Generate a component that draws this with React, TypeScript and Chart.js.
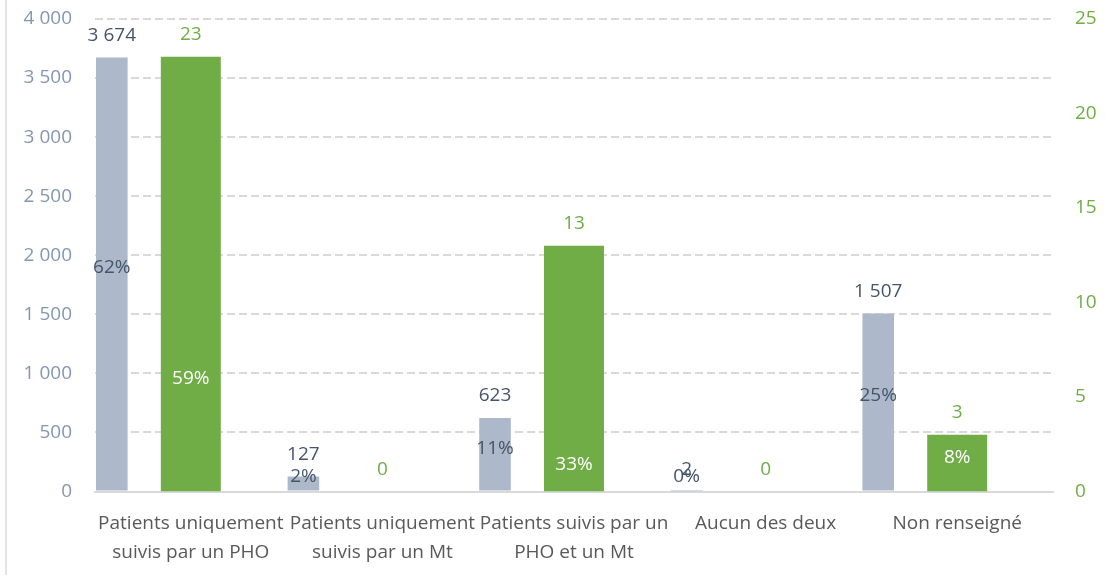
import React, { useEffect, useRef } from "react";
import { Chart, registerables } from "chart.js";

Chart.register(...registerables);

const categories: (string | string[])[] = [
  ["Patients uniquement", "suivis par un PHO"],
  ["Patients uniquement", "suivis par un Mt"],
  ["Patients suivis par un", "PHO et un Mt"],
  "Aucun des deux",
  "Non renseigné",
];

const patientCounts = [3674, 127, 623, 2, 1507];
const patientPct = [62, 2, 11, 0, 25];

const centreCounts = [23, 0, 13, 0, 3];
const centrePct: (number | null)[] = [59, null, 33, null, 8];
// vertical level (right-axis units) where the percentage labels of the green bars sit
const centrePctLevel: (number | null)[] = [6, null, 1.4, null, 1.8];

const leftTicks = { min: 0, max: 4000, step: 500 };
const rightTicks = { min: 0, max: 25, step: 5 };

const FONT = "'Open Sans', 'DejaVu Sans', sans-serif";
const GREY_BAR = "#ADB9CA";
const GREEN = "#70AD47";
const DARK = "#44546A";
const AXIS_BLUE = "#8497B0";
const GRID = "#D9D9D9";

const fmt = (v: number) => String(v).replace(/\B(?=(\d{3})+(?!\d))/g, " ");

const labelPlugin = {
  id: "barLabels",
  afterDatasetsDraw(chart: any) {
    const ctx = chart.ctx;
    ctx.save();
    ctx.font = `19px ${FONT}`;
    ctx.textAlign = "center";
    ctx.textBaseline = "middle";
    const greyMeta = chart.getDatasetMeta(0);
    const greenMeta = chart.getDatasetMeta(2);
    const y1 = chart.scales.y1;
    greyMeta.data.forEach((bar: any, i: number) => {
      const { x, y, base } = bar.getProps(["x", "y", "base"], true);
      ctx.fillStyle = DARK;
      ctx.fillText(fmt(patientCounts[i]), x, y - 22);
      const mid = Math.min((y + base) / 2 - 6, base - 14);
      ctx.fillText(patientPct[i] + "%", x, mid);
    });
    greenMeta.data.forEach((bar: any, i: number) => {
      const { x, y } = bar.getProps(["x", "y"], true);
      ctx.fillStyle = GREEN;
      ctx.fillText(fmt(centreCounts[i]), x, y - 22);
      const p = centrePct[i];
      const lvl = centrePctLevel[i];
      if (p != null && lvl != null) {
        ctx.fillStyle = "#FFFFFF";
        ctx.fillText(p + "%", x, y1.getPixelForValue(lvl));
      }
    });
    ctx.restore();
  },
};

export default function App() {
  const ref = useRef<HTMLCanvasElement | null>(null);

  useEffect(() => {
    if (!ref.current) return;
    const chart = new Chart(ref.current, {
      type: "bar",
      data: {
        labels: categories as any,
        datasets: [
          {
            label: "Patients",
            data: patientCounts,
            backgroundColor: GREY_BAR,
            borderWidth: 0,
            yAxisID: "y",
            categoryPercentage: 1.649,
            barPercentage: 0.2,
          },
          {
            label: "",
            data: patientCounts.map(() => null),
            backgroundColor: "rgba(0,0,0,0)",
            yAxisID: "y",
            categoryPercentage: 1.649,
            barPercentage: 0.2,
          },
          {
            label: "Centres",
            data: centreCounts,
            backgroundColor: GREEN,
            borderWidth: 0,
            yAxisID: "y1",
            grouped: false,
            categoryPercentage: 1,
            barPercentage: 0.313,
          } as any,
        ],
      },
      options: {
        responsive: false,
        animation: false,
        layout: { padding: { top: 19, left: 0, right: 0, bottom: 0 } },
        plugins: {
          legend: { display: false },
          tooltip: { enabled: false },
        },
        scales: {
          x: {
            stacked: false,
            grid: { display: false, drawTicks: false },
            border: { display: true, color: GRID, width: 2 },
            ticks: {
              autoSkip: false,
              maxRotation: 0,
              minRotation: 0,
              padding: 18,
              color: "#595959",
              font: { family: FONT, size: 19, lineHeight: 1.5 },
            },
            afterFit: (s: any) => {
              s.height = 86.5;
            },
          },
          y: {
            position: "left",
            stacked: false,
            min: leftTicks.min,
            max: leftTicks.max,
            ticks: {
              stepSize: leftTicks.step,
              padding: 23,
              color: AXIS_BLUE,
              font: { family: FONT, size: 19 },
              callback: (v: any) => fmt(Number(v)),
            },
            grid: { color: GRID, lineWidth: 2, drawTicks: false },
            border: { display: false, dash: [8, 4] },
            afterFit: (s: any) => {
              s.width = 95;
              s.paddingTop = 0;
              s.paddingBottom = 0;
            },
          },
          y1: {
            position: "right",
            min: rightTicks.min,
            max: rightTicks.max,
            ticks: {
              stepSize: rightTicks.step,
              padding: 22,
              color: GREEN,
              font: { family: FONT, size: 19 },
            },
            grid: { display: false, drawTicks: false },
            border: { display: false },
            afterFit: (s: any) => {
              s.width = 52;
              s.paddingTop = 0;
              s.paddingBottom = 0;
            },
          },
        },
      },
      plugins: [labelPlugin],
    });
    return () => chart.destroy();
  }, []);

  return (
    <div style={{ position: "absolute", left: 0, top: 0, width: 1105, height: 578, background: "#fff" }}>
      <div style={{ position: "absolute", left: 5, top: 0, width: 2, height: 575, background: "#E3E3E3" }} />
      <canvas ref={ref} width={1105} height={578} style={{ position: "absolute", left: 0, top: 0 }} />
    </div>
  );
}
